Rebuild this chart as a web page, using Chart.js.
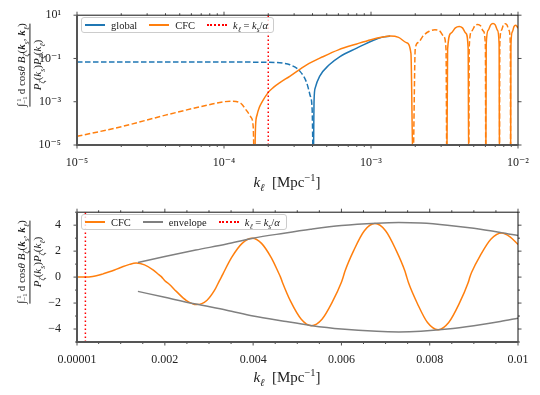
<!DOCTYPE html>
<html lang="en">
<head>
<meta charset="UTF-8" />
<title>CFC vs global bispectrum</title>
<script src="https://cdn.jsdelivr.net/npm/chart.js"></script>
<style>
  body { margin: 0; width: 540px; height: 395px; position: relative; background: #fff; overflow: hidden;
         font-family: "Liberation Serif", "DejaVu Serif", serif; color: #222; }
  canvas { position: absolute; left: 0; }
  #topChart { top: 0; }
  #botChart { top: 197px; }
  .legend { position: absolute; height: 16px; box-sizing: border-box; display: flex; align-items: center;
            padding-left: 3px; background: rgba(255,255,255,0.8); border: 1px solid #ccc; border-radius: 3px;
            font-size: 10.5px; white-space: nowrap; }
  .legend .item { display: flex; align-items: center; margin-right: 12px; }
  .legend .sw { display: inline-block; width: 20px; height: 1.6px; margin-right: 6px; }
  .legend .dot { height: 0; border-top: 2px dotted #ff0000; }
  sub, sup { font-size: 70%; line-height: 0; }
  .ylab { position: absolute; transform: translate(-50%, -50%) rotate(-90deg); text-align: center;
          font-size: 11px; white-space: nowrap; line-height: 1.35; }
  .ylab .den { border-top: 0.9px solid #222; }
  .lim { display: inline-flex; flex-direction: column; font-size: 62%; line-height: 1; vertical-align: middle; margin-right: 2px; }
  .xlab { position: absolute; transform: translate(-50%, -50%); font-size: 15px; white-space: nowrap; }
</style>
</head>
<body>
  <canvas id="topChart" width="540" height="197"></canvas>
  <canvas id="botChart" width="540" height="198"></canvas>

  <div class="ylab" style="left: 30px; top: 65px">
    <div class="num">∫<span class="lim"><span>1</span><span>−1</span></span>d cos<i>θ</i> <i>B</i><sub><i>ζ</i></sub>(<b><i>k</i></b><sub><i>s</i></sub>, <b><i>k</i></b><sub><i>ℓ</i></sub>)</div>
    <div class="den"><i>P</i><sub><i>ζ</i></sub>(<i>k</i><sub><i>s</i></sub>)<i>P</i><sub><i>ζ</i></sub>(<i>k</i><sub><i>ℓ</i></sub>)</div>
  </div>
  <div class="ylab" style="left: 30px; top: 262px">
    <div class="num">∫<span class="lim"><span>1</span><span>−1</span></span>d cos<i>θ</i> <i>B</i><sub><i>ζ</i></sub>(<b><i>k</i></b><sub><i>s</i></sub>, <b><i>k</i></b><sub><i>ℓ</i></sub>)</div>
    <div class="den"><i>P</i><sub><i>ζ</i></sub>(<i>k</i><sub><i>s</i></sub>)<i>P</i><sub><i>ζ</i></sub>(<i>k</i><sub><i>ℓ</i></sub>)</div>
  </div>

  <div class="xlab" style="left: 287px; top: 182px"><i>k</i><sub><i>ℓ</i></sub> &nbsp;[Mpc<sup>−1</sup>]</div>
  <div class="xlab" style="left: 287px; top: 377px"><i>k</i><sub><i>ℓ</i></sub> &nbsp;[Mpc<sup>−1</sup>]</div>

  <div class="legend" style="left: 81px; top: 17px; width: 193px">
    <span class="item"><span class="sw" style="background: #1f77b4"></span><span>global</span></span>
    <span class="item"><span class="sw" style="background: #ff7f0e"></span><span>CFC</span></span>
    <span class="item"><span class="sw dot"></span><span><i>k</i><sub><i>ℓ</i></sub> = <i>k</i><sub><i>s</i></sub>/<i>α</i></span></span>
  </div>
  <div class="legend" style="left: 81px; top: 214px; width: 206px">
    <span class="item"><span class="sw" style="background: #ff7f0e"></span><span>CFC</span></span>
    <span class="item"><span class="sw" style="background: #808080"></span><span>envelope</span></span>
    <span class="item"><span class="sw dot"></span><span><i>k</i><sub><i>ℓ</i></sub> = <i>k</i><sub><i>s</i></sub>/<i>α</i></span></span>
  </div>

  <script>
    // CFC response, k in Mpc^-1, signed value (negative drawn dashed on the log panel)
    const kCFC = [
      1e-5, 2e-5, 4e-5, 7e-5, 1e-4, 1.15e-4, 1.3e-4, 1.42e-4, 1.52e-4, 1.58e-4, 1.61e-4,
      1.64e-4, 1.68e-4, 1.74e-4, 1.82e-4, 2.0e-4, 2.16e-4, 2.4e-4, 2.8e-4, 3.65e-4, 4.7e-4,
      6.0e-4, 8.0e-4, 1.0e-3, 1.2e-3, 1.35e-3, 1.54e-3, 1.74e-3, 1.87e-3, 1.93e-3,
      2.0e-3, 2.1e-3, 2.26e-3, 2.49e-3, 2.72e-3, 2.95e-3, 3.12e-3, 3.24e-3, 3.28e-3,
      3.32e-3, 3.51e-3, 3.75e-3, 3.98e-3, 4.19e-3, 4.41e-3, 4.58e-3, 4.62e-3,
      4.66e-3, 4.85e-3, 5.09e-3, 5.32e-3, 5.56e-3, 5.8e-3, 6.0e-3, 6.04e-3,
      6.08e-3, 6.28e-3, 6.52e-3, 6.76e-3, 7.0e-3, 7.24e-3, 7.44e-3, 7.48e-3,
      7.52e-3, 7.72e-3, 7.95e-3, 8.19e-3, 8.43e-3, 8.67e-3, 8.87e-3, 8.91e-3,
      8.95e-3, 9.15e-3, 9.39e-3, 9.63e-3, 9.82e-3, 1e-2,
    ];
    const cfc = [
      -2.5e-5, -7e-5, -2.4e-4, -6e-4, -1.0e-3, -1.05e-3, -8.5e-4, -4e-4, -2e-4, -7e-5, 0,
      8e-5, 2.5e-4, 5.5e-4, 1.0e-3, 2.7e-3, 4.5e-3, 7.6e-3, 0.015, 0.051, 0.12,
      0.25, 0.47, 0.74, 0.98, 1.08, 0.94, 0.54, 0.17, 0,
      -0.28, -0.55, -1.1, -1.81, -2.12, -1.8, -1.05, -0.25, 0,
      0.27, 1.5, 2.6, 3.0, 2.6, 1.5, 0.3, 0,
      -0.37, -1.87, -3.24, -3.74, -3.24, -1.87, -0.4, 0,
      0.45, 2.06, 3.57, 4.12, 3.57, 2.06, 0.45, 0,
      -0.44, -2.03, -3.5, -4.05, -3.5, -2.03, -0.44, 0,
      0.37, 1.7, 2.94, 3.4, 3.1, 2.52,
    ];

    // global response (merges with CFC above ~1e-3)
    const kGlobal = [
      1e-5, 1e-4, 2.0e-4, 2.5e-4, 2.81e-4, 3.28e-4, 3.65e-4, 3.85e-4, 3.98e-4, 4.05e-4,
      4.1e-4, 4.18e-4, 4.47e-4, 5.2e-4, 6.15e-4, 8.0e-4, 1.04e-3, 1.2e-3, 1.35e-3,
    ];
    const globalVals = [
      -0.068, -0.068, -0.067, -0.061, -0.051, -0.026, -0.0076, -0.002, -4e-4, 0,
      1.2e-3, 4.5e-3, 0.015, 0.051, 0.123, 0.3, 0.7, 0.97, 1.08,
    ];

    // envelope of the oscillation
    const kEnv = [0.00139, 0.002, 0.0027, 0.0034, 0.004, 0.0047, 0.0053, 0.006, 0.0068, 0.0073, 0.0078, 0.0084, 0.009, 0.0096, 0.01];
    const envUpper = [1.12, 1.58, 2.08, 2.55, 3.0, 3.38, 3.68, 3.97, 4.15, 4.2, 4.16, 4.0, 3.76, 3.44, 3.2];
    const envLower = [-1.1, -1.56, -2.08, -2.55, -3.0, -3.4, -3.72, -4.0, -4.18, -4.22, -4.17, -4.0, -3.74, -3.42, -3.16];

    const kAlpha = 2e-4; // k_s / alpha

    const topXTicks = [1e-5, 1e-4, 1e-3, 1e-2];
    const topXLabels = ["10⁻⁵", "10⁻⁴", "10⁻³", "10⁻²"];
    const topYTicks = [1e-5, 1e-3, 1e-1, 10];
    const topYLabels = ["10⁻⁵", "10⁻³", "10⁻¹", "10¹"];
    const botXTicks = [0.00001, 0.002, 0.004, 0.006, 0.008, 0.01];
    const botXLabels = ["0.00001", "0.002", "0.004", "0.006", "0.008", "0.01"];
    const botYTicks = [-4, -2, 0, 2, 4];
    const botYLabels = ["−4", "−2", "0", "2", "4"];

    const topXMinor = [];
    for (const d of [1e-5, 1e-4, 1e-3]) for (let m = 2; m <= 9; m++) topXMinor.push(m * d);
    const botXMinor = [];
    for (let i = 1; i < 20; i++) if (i % 4) botXMinor.push(i * 0.0005);
    const botYMinor = [-5, -3, -1, 1, 3, 5];

    const BLUE = "#1f77b4", ORANGE = "#ff7f0e", GRAY = "#808080", RED = "#ff0000";
    const FONT = { family: "'Liberation Serif', 'DejaVu Serif', serif", size: 12 };

    // ticks on all four sides + spines, drawn through the chart's scales
    const frame = {
      id: "frame",
      afterDatasetsDraw(chart, args, o) {
        const { ctx, chartArea: a } = chart;
        const xs = chart.scales.x, ys = chart.scales.y;
        const line = (x1, y1, x2, y2) => { ctx.beginPath(); ctx.moveTo(x1, y1); ctx.lineTo(x2, y2); ctx.stroke(); };
        const xTick = (v, len) => { const p = xs.getPixelForValue(v); line(p, a.bottom, p, a.bottom + len); line(p, a.top, p, a.top - len); };
        const yTick = (v, len) => { const p = ys.getPixelForValue(v); line(a.left, p, a.left - len, p); line(a.right, p, a.right + len, p); };
        ctx.save();
        ctx.strokeStyle = "#222";
        ctx.lineWidth = 0.8;
        o.xMajor.forEach((v) => xTick(v, 3.5));
        o.xMinor.forEach((v) => xTick(v, 2));
        o.yMajor.forEach((v) => yTick(v, 3.5));
        o.yMinor.forEach((v) => yTick(v, 2));
        ctx.lineWidth = 1;
        ctx.strokeStyle = "#111";
        line(a.left, a.top, a.right, a.top);
        line(a.right, a.top, a.right, a.bottom);
        ctx.lineWidth = 2;
        ctx.strokeStyle = "#555";
        line(a.left, a.top, a.left, a.bottom);
        line(a.left - 1, a.bottom, a.right, a.bottom);
        ctx.restore();
      },
    };

    const pts = (ks, vs) => ks.map((k, i) => ({ x: k, y: vs[i] }));
    const absPts = (ks, vs) => ks.map((k, i) => ({ x: k, y: Math.abs(vs[i]) || 1e-6 }));
    const negDash = (vs) => ({
      borderDash: (c) => (vs[c.p0DataIndex] < 0 || vs[c.p1DataIndex] < 0 ? [5.5, 2.5] : undefined),
    });

    const axis = (type, min, max, ticks, labels, fit, pad) => ({
      type, min, max,
      grid: { display: false },
      border: { display: false },
      afterBuildTicks: (s) => { s.ticks = ticks.map((v) => ({ value: v })); },
      afterFit: fit,
      ticks: { autoSkip: false, maxRotation: 0, padding: pad, font: FONT, color: "#222", callback: (v, i) => labels[i] },
    });

    const common = {
      responsive: false,
      animation: false,
      devicePixelRatio: 1,
      events: [],
      layout: { padding: { left: 0, right: 22, top: 13, bottom: 0 } },
      elements: { point: { radius: 0 }, line: { borderWidth: 1.5, cubicInterpolationMode: "monotone" } },
    };

    new Chart(document.getElementById("topChart"), {
      type: "line",
      data: {
        datasets: [
          { label: "kl = ks/alpha", data: [{ x: kAlpha, y: 1e-5 }, { x: kAlpha, y: 10 }],
            borderColor: RED, borderDash: [1.5, 2.5], cubicInterpolationMode: "default", tension: 0, order: 0 },
          { label: "CFC", data: absPts(kCFC, cfc), borderColor: ORANGE, segment: negDash(cfc), order: 1 },
          { label: "global", data: absPts(kGlobal, globalVals), borderColor: BLUE, segment: negDash(globalVals), order: 2 },
        ],
      },
      options: {
        ...common,
        scales: {
          x: axis("logarithmic", 1e-5, 1e-2, topXTicks, topXLabels, (s) => { s.height = 52; }, 3),
          y: axis("logarithmic", 1e-5, 10, topYTicks, topYLabels, (s) => { s.width = 77; }, 8),
        },
        plugins: {
          legend: { display: false },
          tooltip: { enabled: false },
          frame: { xMajor: topXTicks, xMinor: topXMinor, yMajor: topYTicks, yMinor: [] },
        },
      },
      plugins: [frame],
    });

    new Chart(document.getElementById("botChart"), {
      type: "line",
      data: {
        datasets: [
          { label: "kl = ks/alpha", data: [{ x: kAlpha, y: -5 }, { x: kAlpha, y: 5 }],
            borderColor: RED, borderDash: [1.5, 2.5], cubicInterpolationMode: "default", tension: 0, order: 0 },
          { label: "envelope", data: pts(kEnv, envUpper), borderColor: GRAY, order: 1 },
          { label: "envelope lower", data: pts(kEnv, envLower), borderColor: GRAY, order: 1 },
          { label: "CFC", data: pts(kCFC, cfc), borderColor: ORANGE, order: 2 },
        ],
      },
      options: {
        ...common,
        scales: {
          x: axis("linear", 0.00001, 0.01, botXTicks, botXLabels, (s) => { s.height = 53; }, 3),
          y: axis("linear", -5, 5, botYTicks, botYLabels, (s) => { s.width = 77; }, 8),
        },
        plugins: {
          legend: { display: false },
          tooltip: { enabled: false },
          frame: { xMajor: botXTicks, xMinor: botXMinor, yMajor: botYTicks, yMinor: botYMinor },
        },
      },
      plugins: [frame],
    });
  </script>
</body>
</html>
